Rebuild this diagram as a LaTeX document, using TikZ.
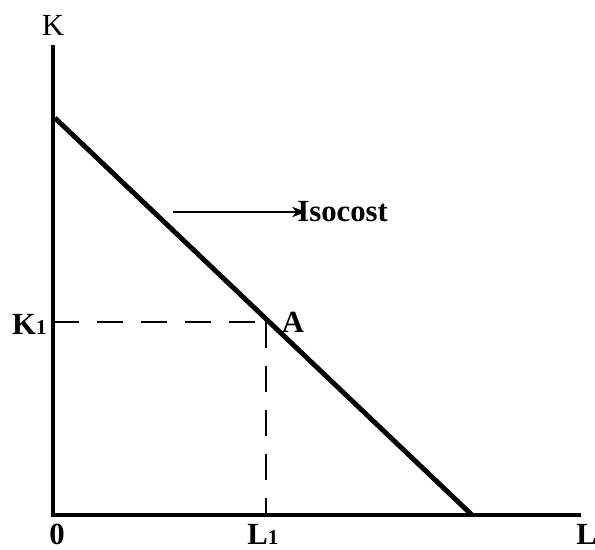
\documentclass[tikz,border=0pt]{standalone}
\usepackage{fontspec}
\setmainfont{Liberation Serif}
\usepackage{tikz}
\usetikzlibrary{arrows.meta, positioning, calc}
\tikzset{
  axis/.style={line width=2.8pt, color=black},
  costline/.style={line width=2.8pt, color=black},
  guide/.style={line width=0.8pt, dash pattern=on 15pt off 10pt},
  arrow/.style={-Stealth, line width=1.1pt},
  lbl/.style={font=\fontsize{17.5}{20}\selectfont\bfseries, inner sep=0pt},
  axlbl/.style={font=\fontsize{17.5}{20}\selectfont, inner sep=0pt}
}
\newcommand{\sub}[1]{{\fontsize{12}{14}\selectfont #1}}

\begin{document}
\begin{tikzpicture}[x=0.02cm, y=-0.02cm]
  \useasboundingbox (0,0) rectangle (595,549);
  % axes
  \coordinate (top) at (53,45);
  \coordinate (origin) at (53,515);
  \coordinate (right) at (581,515);
  \draw[axis] (top) -- (origin) -- (right);
  % isocost line
  \coordinate (kint) at (55,118);
  \coordinate (lint) at (472,515);
  \draw[costline] (kint) -- (lint);
  % point A and guides
  \coordinate (A) at (266,322);
  \coordinate (kone) at (53,322);
  \coordinate (lone) at (266,515);
  \draw[guide] (kone) -- (A);
  \draw[guide] (A) -- (lone);
  % labels
  \node[axlbl] (klbl) at (53,25) {K};
  \node[lbl, anchor=east] (k1lbl) at (47,324) {K\sub{1}};
  \node[lbl] (albl) at (293,322) {A};
  \node[lbl] (zero) at (57,534) {0};
  \node[lbl] (l1lbl) at (263,534) {L\sub{1}};
  \node[lbl, anchor=west] (llbl) at (576,534) {L};
  \node[lbl, anchor=west] (iso) at (297,212) {Isocost};
  \coordinate (tail) at (173,212);
  \draw[arrow] (tail) -- ($(iso.west)+(9,0)$);
\end{tikzpicture}
\end{document}
